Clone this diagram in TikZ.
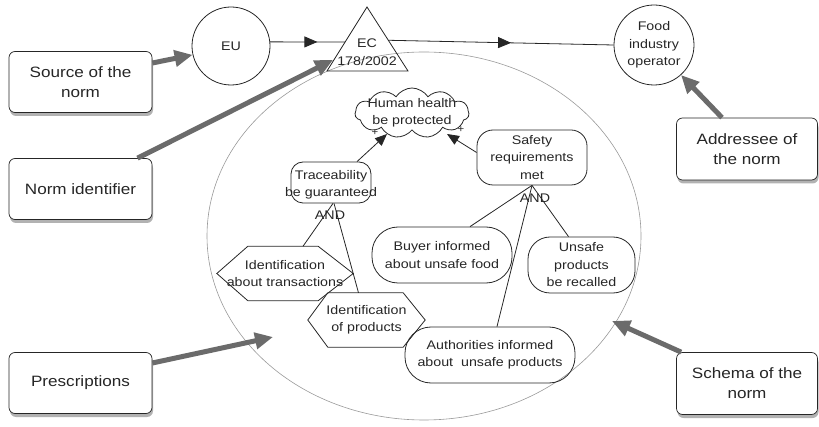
\documentclass[tikz,border=0pt]{standalone}
\usepackage{fontspec}
\setmainfont{Liberation Sans}[FakeStretch=1.14]
\usetikzlibrary{arrows.meta,shapes.geometric,shapes.symbols,shadows,decorations.markings,calc}
\definecolor{arrgray}{gray}{0.42}
\definecolor{ellgray}{gray}{0.6}
\begin{document}
\begin{tikzpicture}[x=1pt,y=-1pt,
  every node/.style={inner sep=0pt, text=black!85},
  ftxt/.style={font=\fontsize{12.5}{17.5}\selectfont, align=center},
  outer/.style={draw=black!85, line width=0.7pt, rounded corners=6pt, fill=white,
    minimum width=143pt, minimum height=61pt, align=center,
    font=\fontsize{15}{20}\selectfont,
    drop shadow={shadow xshift=1pt, shadow yshift=-3.5pt, opacity=0.3, fill=black}},
  rbox/.style={draw=black!85, line width=0.8pt, ftxt},
  conn/.style={draw=black!85, line width=0.8pt},
  garrow/.style={draw=arrgray, line width=5pt, -{Triangle[length=18pt,width=16pt,fill=arrgray]}},
  midarrow/.style={postaction={decorate}, decoration={markings,
    mark=at position #1 with {\arrow{Triangle[length=13pt,width=11pt]}}}},
  tipstyle/.style={-{Triangle[length=12pt,width=10pt]}}
]
\useasboundingbox (0,0) rectangle (819,427);

% schema ellipse
\node[ellipse, draw=ellgray, line width=0.6pt, minimum width=434pt, minimum height=368pt] (ell) at (424,236) {};

% outer boxes
\node[outer] (src) at (80.5,82) {Source of the\\norm};
\node[outer] (nid) at (80.5,189) {Norm identifier};
\node[outer] (pre) at (80.5,383) {Prescriptions};
\node[outer, minimum width=141pt, minimum height=62pt] (add) at (747,149) {Addressee of\\the norm};
\node[outer, minimum width=141pt, minimum height=62pt] (sch) at (747,383.5) {Schema of the\\norm};

% top row
\node[circle, draw=black!85, line width=0.8pt, minimum size=78pt, ftxt] (eu) at (231,46) {EU};
\node[circle, draw=black!85, line width=0.8pt, minimum size=80pt, ftxt] (food) at (654,45) {Food\\industry\\operator};
\coordinate (ecA) at (367,7);
\coordinate (ecL) at (327,71);
\coordinate (ecR) at (408,71);
\draw[conn] (ecA) -- (ecL) -- (ecR) -- cycle;
\node[ftxt] (ec) at (367,52) {EC\\178/2002};
\coordinate (ecin) at ($(ecA)!0.547!(ecL)$);
\coordinate (ecout) at ($(ecA)!0.52!(ecR)$);
\draw[conn, midarrow=0.63] (eu.6) -- (ecin);
\draw[conn, midarrow=0.545] (ecout) -- (food.west);

% goal cloud
\node[cloud, cloud ignores aspect, draw=black!85, line width=0.8pt, cloud puffs=11, cloud puff arc=115,
  minimum width=114pt, minimum height=50pt] (hh) at (412,113) {};
\node[ftxt] (hht) at (412,113) {Human health\\be protected};

% traceability
\node[rbox, rounded corners=12pt, minimum width=80pt, minimum height=41pt] (tr) at (331,182.5) {};
\node[ftxt] (trt) at (331,185) {Traceability\\be guaranteed};
\node[ftxt] (and1) at (330,215) {AND};

% hexagons
\node[ftxt, minimum width=136pt, minimum height=54pt] (it) at (285,273.5) {Identification\\about transactions};
\draw[conn] (it.west) -- ([xshift=31pt]it.north west) -- ([xshift=-35pt]it.north east)
  -- (it.east) -- ([xshift=-35pt]it.south east) -- ([xshift=31pt]it.south west) -- cycle;
\node[ftxt, minimum width=117pt, minimum height=54pt] (ip) at (366.5,320) {Identification\\of products};
\draw[conn] (ip.west) -- ([xshift=20pt]ip.north west) -- ([xshift=-22pt]ip.north east)
  -- (ip.east) -- ([xshift=-22pt]ip.south east) -- ([xshift=20pt]ip.south west) -- cycle;

% safety
\node[rbox, rounded corners=16pt, minimum width=110pt, minimum height=55pt] (sr) at (532,157.5) {Safety\\requirements\\met};
\node[ftxt] (and2) at (535,198) {AND};
\node[rbox, rounded corners=26pt, minimum width=140pt, minimum height=56pt] (buy) at (442,255) {Buyer informed\\about unsafe food};
\node[rbox, rounded corners=22pt, minimum width=107pt, minimum height=56pt] (uns) at (581.5,265) {Unsafe\\products\\be recalled};
\node[rbox, rounded corners=26pt, minimum width=170pt, minimum height=56pt] (auth) at (490,355) {Authorities informed\\about~~unsafe products};

% connectors
\draw[conn, tipstyle] ([xshift=26pt]tr.north) -- ([xshift=-25pt,yshift=-21pt]hh.center);
\draw[conn, tipstyle] ([yshift=5pt]sr.west) -- ([xshift=35pt,yshift=-21pt]hh.center);
\node[font=\fontsize{10}{10}\selectfont] (p1) at (375,133) {+};
\node[font=\fontsize{10}{10}\selectfont] (p2) at (461,130) {+};
\draw[conn] ([xshift=2pt]tr.south) -- ([xshift=18pt]it.north);
\draw[conn] ([xshift=3pt]tr.south) -- ([xshift=-8pt]ip.north);
\draw[conn] (sr.south) -- ([xshift=28pt]buy.north);
\draw[conn] (sr.south) -- ([xshift=-13pt]uns.north);
\draw[conn] (sr.south) -- ([xshift=7pt]auth.north);

% gray pointer arrows
\coordinate (nidtip) at (333,60);
\coordinate (pretip) at (273,337);
\coordinate (schtip) at (612,321);
\draw[garrow] ([yshift=19pt]src.east) -- (eu.193);
\draw[garrow] ([xshift=57pt]nid.north) -- (nidtip);
\draw[garrow] ([yshift=20pt]pre.east) -- (pretip);
\draw[garrow] ([xshift=-25pt]add.north) -- (food.-48);
\draw[garrow] ([xshift=5pt]sch.north west) -- (schtip);
\end{tikzpicture}
\end{document}
